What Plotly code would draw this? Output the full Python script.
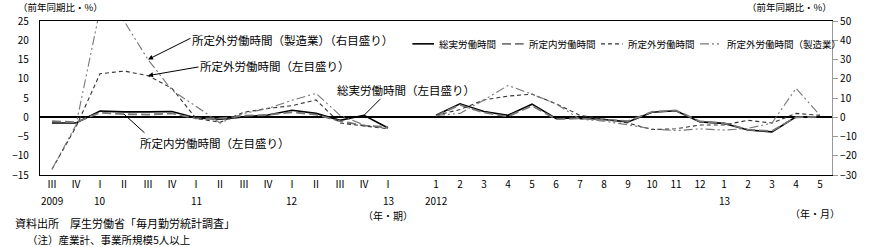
import plotly.graph_objects as go

# ---- data ----
quarter_labels = ["Ⅲ", "Ⅳ", "Ⅰ", "Ⅱ", "Ⅲ", "Ⅳ", "Ⅰ", "Ⅱ", "Ⅲ", "Ⅳ", "Ⅰ", "Ⅱ", "Ⅲ", "Ⅳ", "Ⅰ"]
quarter_years = ["2009", "", "10", "", "", "", "11", "", "", "", "12", "", "", "", "13"]
month_labels = ["1", "2", "3", "4", "5", "6", "7", "8", "9", "10", "11", "12", "1", "2", "3", "4", "5"]
month_years = ["2012", "", "", "", "", "", "", "", "", "", "", "", "13", "", "", "", ""]

# 総実労働時間 (left axis)
total_q = [-1.5, -1.5, 1.6, 1.4, 1.4, 1.5, -0.2, -0.5, 0.1, 0.6, 1.8, 1.0, -0.8, 0.5, -2.8]
total_m = [0.5, 3.5, 1.5, 0.5, 3.4, -0.3, -0.2, -0.6, -1.2, 1.3, 1.7, -1.2, -1.6, -3.3, -3.8, 0.1, 0.1]
# 所定内労働時間 (left axis)
sched_q = [-1.0, -1.3, 1.2, 0.8, 0.7, 1.0, -0.3, -0.3, 0.4, 0.6, 1.3, 0.7, -1.0, -2.2, -2.5]
sched_m = [0.4, 3.2, 1.2, 0.2, 3.0, -0.5, -0.3, -0.6, -1.0, 1.4, 1.8, -1.1, -1.5, -3.2, -3.6, 0.0, 0.1]
# 所定外労働時間 (left axis)
over_q = [-13.5, -2.5, 11.3, 12.0, 10.8, 7.5, -0.3, -1.3, 1.3, 2.3, 3.0, 4.5, -1.5, -2.2, -3.0]
over_m = [0.5, 2.0, 4.5, 5.5, 6.0, 3.5, 0.5, -0.5, -1.5, -3.2, -3.0, -2.0, -2.0, -0.8, -1.5, 1.0, 0.5]
# 所定外労働時間(製造業) (right axis)
mfg_q = [-27.0, -4.0, 56.0, 50.0, 30.0, 14.0, 5.7, -3.0, 2.0, 4.6, 8.8, 12.4, 1.0, -4.0, -5.7]
mfg_m = [1.0, 2.0, 9.0, 16.5, 12.0, 7.0, -1.0, -2.0, -4.0, -6.0, -7.0, -6.0, -6.7, -5.8, -3.0, 15.0, 1.0]

series_names = ["総実労働時間", "所定内労働時間", "所定外労働時間", "所定外労働時間（製造業）"]

n_q = len(quarter_labels)
gap = n_q                      # empty slot between the two panels
xs = list(range(n_q)) + [gap] + [gap + 1 + j for j in range(len(month_labels))]

def join(q, m):
    return list(q) + [None] + list(m)

tickvals = xs[:n_q] + xs[n_q + 1:]
ticktext = quarter_labels + month_labels
year_text = quarter_years + month_years

FONT = "Noto Sans CJK JP"
styles = [
    dict(color="black", width=1.6),
    dict(color="#777777", width=1.8, dash="9px,4px"),
    dict(color="#333333", width=1.1, dash="4px,3px"),
    dict(color="#777777", width=1.1, dash="9px,3px,2px,3px,2px,3px"),
]
series = [(total_q, total_m, "y"), (sched_q, sched_m, "y"), (over_q, over_m, "y"), (mfg_q, mfg_m, "y2")]

fig = go.Figure()
for (q, m, ax), nm, st in zip(series, series_names, styles):
    fig.add_trace(go.Scatter(x=xs, y=join(q, m), name=nm, mode="lines", line=st,
                             connectgaps=False, yaxis=ax, showlegend=False))

W, H = 869, 247
ML, MR, MT, MB = 32, 33, 20, 72
PW, PH = W - ML - MR, H - MT - MB

fig.update_layout(
    width=W, height=H,
    margin=dict(l=ML, r=MR, t=MT, b=MB),
    paper_bgcolor="white", plot_bgcolor="white",
    font=dict(family=FONT, size=10, color="black"),
    showlegend=False,
    xaxis=dict(range=[-0.5, len(xs) - 0.5], tickvals=tickvals, ticktext=ticktext,
               showgrid=False, zeroline=False, showline=True, linecolor="black", linewidth=1.2,
               mirror=True, ticks="", tickfont=dict(size=10)),
    yaxis=dict(range=[-15, 25], dtick=5, showgrid=False, zeroline=True, zerolinecolor="black",
               zerolinewidth=1.5, showline=True, linecolor="black", linewidth=1.2, ticks="",
               ticklabelstandoff=8, tickfont=dict(size=10)),
    yaxis2=dict(range=[-30, 50], dtick=10, overlaying="y", side="right", showgrid=False,
                zeroline=False, showline=True, linecolor="#999999", linewidth=1.2,
                ticks="outside", ticklen=5, tickcolor="#999999", tickfont=dict(size=10)),
)

ann = []
shapes = []

# ---- compact legend (key line + label), laid out left to right ----
LEG_FONT = 9.5
leg_y = (PH - 23) / PH          # row centre, 23 px below the plot top
cursor = 410                    # px from the left edge of the page
for nm, st in zip(series_names, styles):
    x0 = (cursor - ML) / PW
    x1 = (cursor + 22 - ML) / PW
    shapes.append(dict(type="line", xref="paper", yref="paper", x0=x0, x1=x1, y0=leg_y, y1=leg_y,
                       line=dict(color=st["color"], width=st["width"], dash=st.get("dash", "solid"))))
    ann.append(dict(text=nm, xref="paper", yref="paper", x=(cursor + 25 - ML) / PW, y=leg_y,
                    xanchor="left", yanchor="middle", showarrow=False, font=dict(size=LEG_FONT)))
    cursor += 25 + len(nm) * LEG_FONT + 9

# year row under the tick labels
for xv, yt in zip(tickvals, year_text):
    if yt:
        ann.append(dict(text=yt, xref="x", yref="paper", x=xv, y=0, yshift=-25,
                        xanchor="center", yanchor="middle", showarrow=False, font=dict(size=10)))
# axis units
ann.append(dict(text="（前年同期比・%）", xref="paper", yref="paper", x=-0.03, y=1.0, yshift=14,
                xanchor="left", yanchor="middle", showarrow=False, font=dict(size=9.5)))
ann.append(dict(text="（前年同期比・%）", xref="paper", yref="paper", x=1.003, y=1.0, yshift=14,
                xanchor="right", yanchor="middle", showarrow=False, font=dict(size=9.5)))
ann.append(dict(text="（年・期）", xref="x", yref="paper", x=n_q - 1, y=0, yshift=-40,
                xanchor="center", yanchor="middle", showarrow=False, font=dict(size=10)))
ann.append(dict(text="（年・月）", xref="paper", yref="paper", x=1.012, y=0, yshift=-38,
                xanchor="right", yanchor="middle", showarrow=False, font=dict(size=10)))
ann.append(dict(text="資料出所　厚生労働省「毎月勤労統計調査」", xref="paper", yref="paper", x=-0.034, y=0,
                yshift=-48, xanchor="left", yanchor="middle", showarrow=False, font=dict(size=11)))
ann.append(dict(text="（注）産業計、事業所規模5人以上", xref="paper", yref="paper", x=-0.019, y=0,
                yshift=-64, xanchor="left", yanchor="middle", showarrow=False, font=dict(size=10.5)))

# callout labels
lab = dict(showarrow=False, xanchor="left", yanchor="middle", font=dict(size=11.5), xref="x", yref="y")
ann.append(dict(text="所定外労働時間（製造業）（右目盛り）", x=5.75, y=20.0, **lab))
ann.append(dict(text="所定外労働時間（左目盛り）", x=6.1, y=13.3, **lab))
ann.append(dict(text="総実労働時間（左目盛り）", x=11.8, y=7.0, **lab))
ann.append(dict(text="所定内労働時間（左目盛り）", x=3.6, y=-6.8, **lab))

# arrows / leader lines
arr = dict(text="", showarrow=True, arrowcolor="black", arrowwidth=1, arrowsize=1, axref="pixel", ayref="pixel")
ann.append(dict(x=4, y=mfg_q[4], xref="x", yref="y2", ax=44, ay=-22, arrowhead=2, **arr))
ann.append(dict(x=4, y=over_q[4], xref="x", yref="y", ax=52, ay=-9, arrowhead=2, **arr))
ann.append(dict(x=13, y=total_q[13], xref="x", yref="y", ax=18, ay=-18, arrowhead=0, **arr))
ann.append(dict(x=3, y=total_q[3] - 0.6, xref="x", yref="y", ax=22, ay=20, arrowhead=0, **arr))

fig.update_layout(annotations=ann, shapes=shapes)
fig.write_html("out.html")
